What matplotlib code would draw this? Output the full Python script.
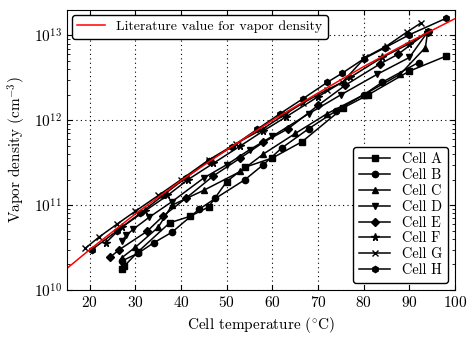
import matplotlib
matplotlib.use('Agg')
import matplotlib.pyplot as plt

plt.rcParams['font.family'] = 'serif'
plt.rcParams['font.serif'] = ['cmr10', 'DejaVu Serif']
plt.rcParams['mathtext.fontset'] = 'cm'
plt.rcParams['axes.formatter.use_mathtext'] = True
plt.rcParams['xtick.direction'] = 'in'
plt.rcParams['ytick.direction'] = 'in'
plt.rcParams['xtick.top'] = True
plt.rcParams['ytick.right'] = True

# literature curve
lit_T = [15, 20, 30, 40, 50, 60, 70, 80, 90, 100]
lit_n = [1.8e10, 3.0e10, 7.9e10, 1.95e11, 4.5e11, 1.0e12, 2.1e12, 4.3e12, 8.4e12, 1.58e13]

# measured cells
cells = ['Cell A', 'Cell B', 'Cell C', 'Cell D', 'Cell E', 'Cell F', 'Cell G', 'Cell H']
markers = ['s', 'o', '^', 'v', 'D', '*', 'x', 'h']

cell_T = [
    [27, 27.5, 30.5, 37.5, 42, 46, 50, 54, 60, 66.5, 75.5, 81, 90, 98],
    [27, 30.5, 34, 38, 44, 47.5, 54, 58, 62, 68, 74, 80, 84, 92],
    [27, 30, 35, 38, 45, 53, 58, 65, 72, 80, 88, 93.5, 94],
    [27, 28, 29.5, 33, 38, 45, 50, 55, 60, 68, 75, 83, 90, 94],
    [24.5, 26.5, 32.5, 36, 41, 47, 53, 58, 63.5, 70, 76, 83.5, 87.5, 94],
    [23.5, 27, 32, 37, 41.5, 47, 53, 58, 63, 70, 77, 84, 90, 94],
    [19, 22, 26, 30, 35, 40, 46, 52, 58, 63, 66.7, 72, 75.3, 80.3, 85, 89.5, 92.5],
    [20.5, 26, 31, 36, 41, 46, 51.2, 56.6, 61.7, 66.7, 72, 75.3, 80, 84.7, 90, 98.1],
]
cell_n = [
    [1.75e10, 1.9e10, 2.8e10, 6.2e10, 7.4e10, 9.5e10, 1.9e11, 2.8e11, 3.6e11, 5.6e11, 1.4e12, 2.0e12, 3.8e12, 5.7e12],
    [2.2e10, 2.7e10, 3.6e10, 4.8e10, 9.0e10, 1.2e11, 2.0e11, 3.0e11, 4.7e11, 8.0e11, 1.3e12, 2.0e12, 2.8e12, 4.8e12],
    [2.4e10, 3.2e10, 5.5e10, 1.0e11, 1.5e11, 2.5e11, 4.0e11, 7.0e11, 1.2e12, 2.0e12, 3.5e12, 7.2e12, 1.1e13],
    [3.8e10, 4.4e10, 5.2e10, 7.2e10, 1.1e11, 2.1e11, 3.0e11, 4.5e11, 6.5e11, 1.2e12, 2.0e12, 3.5e12, 5.5e12, 1.1e13],
    [2.45e10, 3.0e10, 4.9e10, 7.4e10, 1.2e11, 2.2e11, 3.6e11, 5.5e11, 8.0e11, 1.5e12, 2.6e12, 4.6e12, 6.0e12, 1.1e13],
    [3.6e10, 5.5e10, 8.5e10, 1.3e11, 2.0e11, 3.1e11, 5.0e11, 7.5e11, 1.1e12, 1.9e12, 3.2e12, 5.5e12, 8.0e12, 1.1e13],
    [3.1e10, 4.2e10, 6.0e10, 8.5e10, 1.3e11, 2.0e11, 3.4e11, 5.3e11, 8.0e11, 1.2e12, 1.6e12, 2.3e12, 2.8e12, 5.5e12, 7.5e12, 1.1e13, 1.4e13],
    [3.0e10, 5.0e10, 8.0e10, 1.3e11, 2.1e11, 3.3e11, 4.9e11, 7.8e11, 1.2e12, 1.8e12, 2.8e12, 3.6e12, 5.3e12, 7.2e12, 1.02e13, 1.6e13],
]

fig = plt.figure(figsize=(4.75, 3.42), dpi=100)
ax = fig.add_axes([0.141, 0.152, 0.817, 0.819])

cell_lines = []
for i in range(len(cells)):
    ms = 5.5 if markers[i] == '*' else 4.5
    l, = ax.plot(cell_T[i], cell_n[i], '-', color='k', marker=markers[i], markersize=ms,
                 linewidth=1.1, label=cells[i], markeredgecolor='k', markerfacecolor='k')
    cell_lines.append(l)

lit_line, = ax.plot(lit_T, lit_n, '-', color='r', linewidth=1.1, label='Literature value for vapor density')

ax.set_yscale('log')
ax.set_xlim(15, 100)
ax.set_ylim(1e10, 2e13)
ax.set_xticks([20, 30, 40, 50, 60, 70, 80, 90, 100])
ax.grid(True, color='k', linestyle=(0, (1, 3)), linewidth=0.8)
ax.tick_params(labelsize=11)
ax.set_xlabel(r'Cell temperature ($^{\circ}$C)', fontsize=11)
ax.set_ylabel(r'Vapor density (cm$^{-3}$)', fontsize=11)

leg1 = ax.legend(handles=[lit_line], loc='upper left', fontsize=10, fancybox=True,
                 framealpha=1, edgecolor='k', borderaxespad=0.35)
ax.add_artist(leg1)
ax.legend(handles=cell_lines, loc='lower right', fontsize=10.3, fancybox=True, framealpha=1,
          edgecolor='k', labelspacing=0.15, handlelength=2.2, borderaxespad=0.5)

fig.savefig('out.png', dpi=100)
